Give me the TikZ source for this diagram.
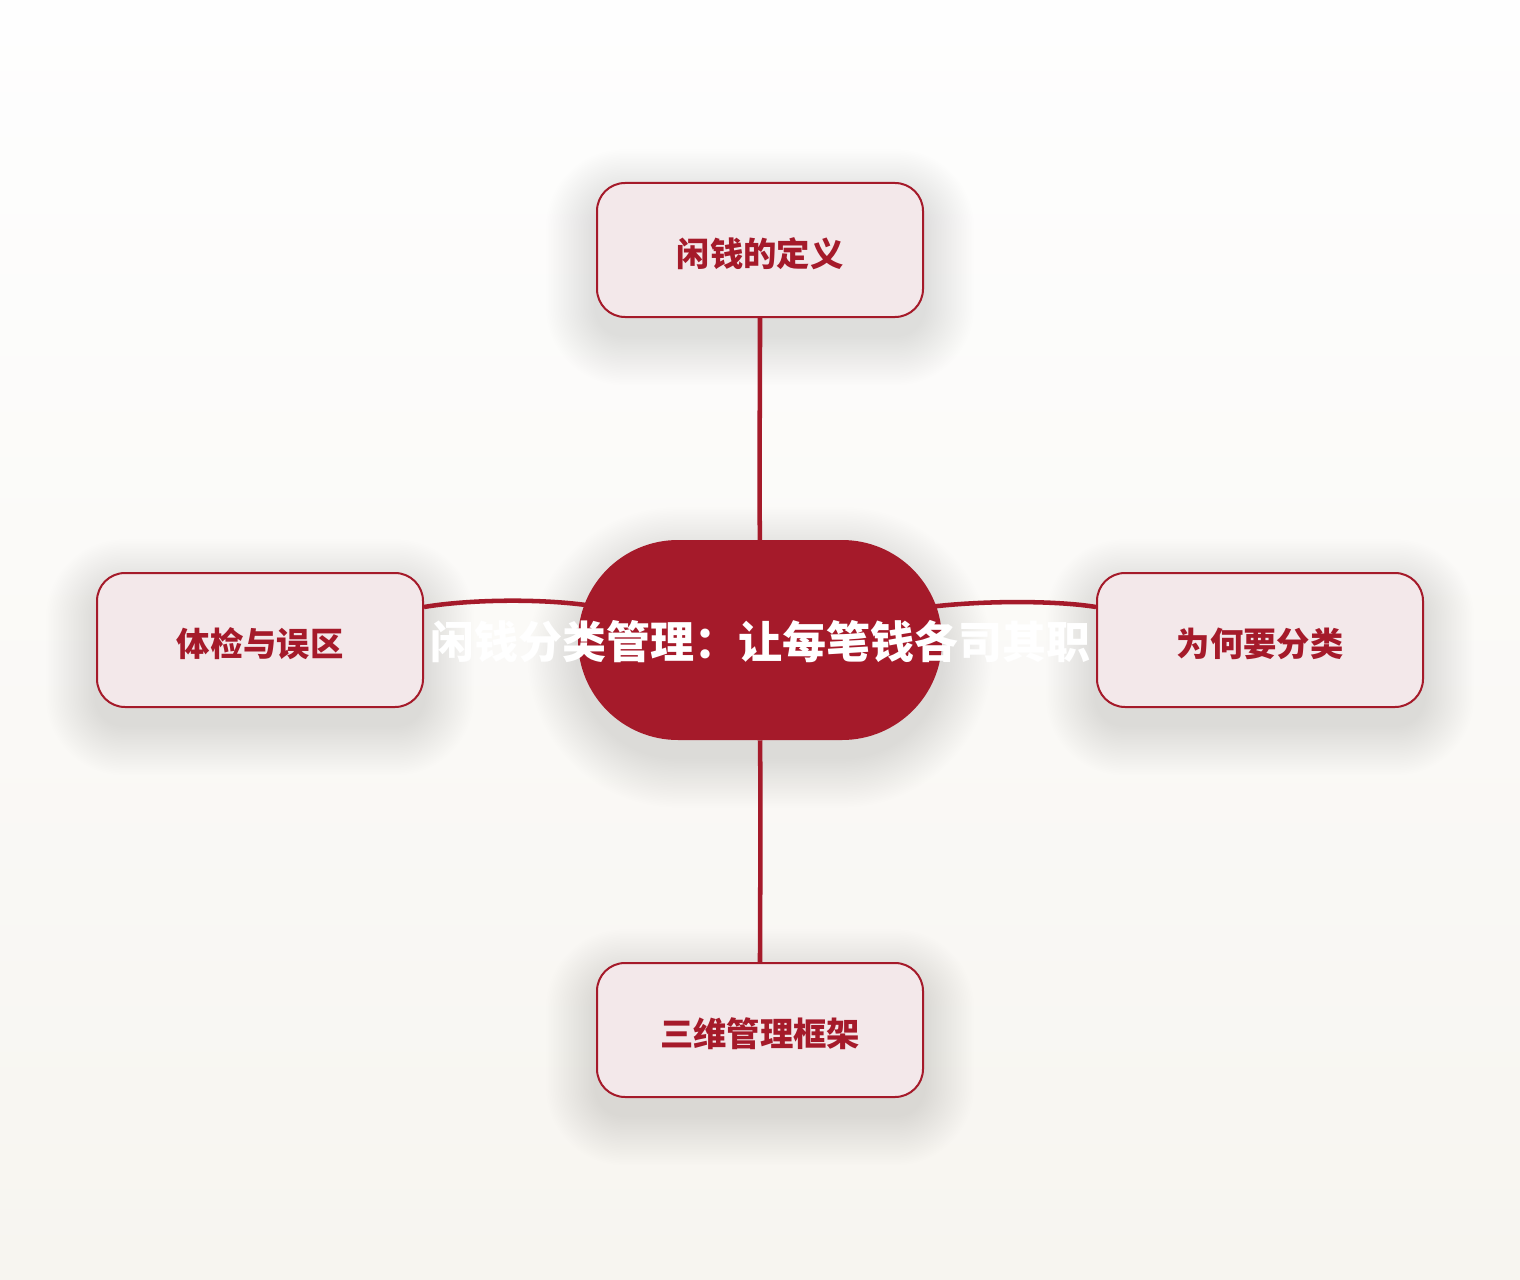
\documentclass[tikz,border=0pt]{standalone}
\usepackage{fontspec}
\setmainfont{Noto Sans CJK SC}
\definecolor{deepred}{HTML}{A51A2A}
\definecolor{boxfill}{HTML}{F3E8EA}
\definecolor{bgtop}{HTML}{FEFEFE}
\definecolor{bgbot}{HTML}{F7F5F0}
\pgfdeclarelayer{bglayer}
\pgfdeclarelayer{shadelayer}
\pgfsetlayers{bglayer,shadelayer,main}
\newcommand{\lowtext}[1]{\raisebox{-3pt}[\height][\depth]{#1}}
\begin{document}
\begin{tikzpicture}[x=0.75pt,y=-0.75pt,
  topic/.style={draw=deepred, line width=1.5pt, fill=boxfill, rounded corners=21pt,
    minimum width=244.5pt, minimum height=100.5pt, inner sep=0pt, text=deepred,
    font=\fontsize{25}{30}\selectfont\bfseries},
  hub/.style={fill=deepred, rounded corners=75pt, minimum width=273pt,
    minimum height=150pt, inner sep=0pt},
  link/.style={draw=deepred, line width=3.4pt},
  hubtext/.style={text=white, font=\fontsize{33}{40}\selectfont\bfseries},
  softshade/.style={fill=black, fill opacity=0.0055}]
\begin{pgfonlayer}{bglayer}
\shade[top color=bgtop, bottom color=bgbot] (0,0) rectangle (1520,1280);
\end{pgfonlayer}
\useasboundingbox (0,0) rectangle (1520,1280);

\node[hub] (c) at (760,640) {};
\node[topic] (t) at (760,250) {\lowtext{闲钱的定义}};
\node[topic] (l) at (260,640) {\lowtext{体检与误区}};
\node[topic] (r) at (1260,640) {\lowtext{为何要分类}};
\node[topic] (b) at (760,1030) {\lowtext{三维管理框架}};

\begin{pgfonlayer}{shadelayer}
\foreach \n/\rr in {t/21,l/21,r/21,b/21,c/75} {
  \foreach \i in {1,...,30} {
    \pgfmathsetmacro{\d}{\i*1.25}
    \pgfmathsetmacro{\rad}{\rr+\d}
    \fill[softshade, rounded corners=\rad pt]
      ([xshift=-\d pt, yshift=\d pt-13pt]\n.north west) rectangle
      ([xshift=\d pt, yshift=-\d pt-13pt]\n.south east);
  }
}
\end{pgfonlayer}

\draw[link] (t.south) .. controls (760,420) and (759,470) .. ([yshift=-6pt]c.north);
\draw[link] (c.south) .. controls (761,820) and (760,900) .. (b.north);
\draw[link] ([yshift=24.75pt]l.east) .. controls (465,600) and (535,598) .. ([xshift=8pt,yshift=26pt]c.west);
\draw[link] ([xshift=-8pt,yshift=25pt]c.east) .. controls (990,600) and (1060,601) .. ([yshift=24.75pt]r.west);

\node[hubtext] (ct) at (760,642) {闲钱分类管理：让每笔钱各司其职};
\end{tikzpicture}
\end{document}
